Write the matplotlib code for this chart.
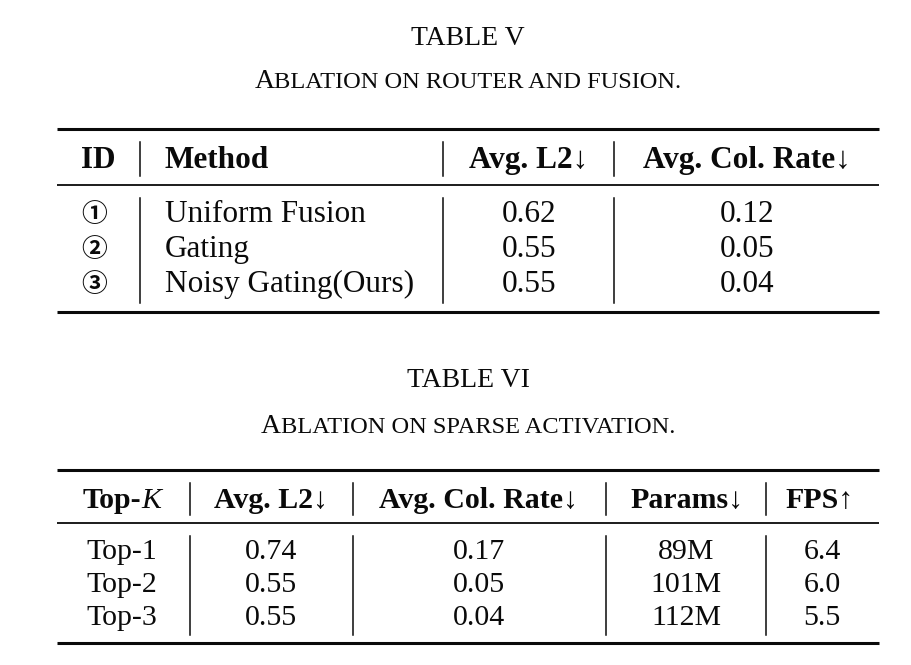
import matplotlib
matplotlib.use('Agg')
import matplotlib.pyplot as plt

# table V: ablation on router and fusion
t5_headers = ['ID', 'Method', 'Avg. L2\u2193', 'Avg. Col. Rate\u2193']
t5_ids = ['\u2460', '\u2461', '\u2462']
t5_methods = ['Uniform Fusion', 'Gating', 'Noisy Gating(Ours)']
t5_l2 = [0.62, 0.55, 0.55]
t5_col = [0.12, 0.05, 0.04]

# table VI: ablation on sparse activation
t6_headers = ['Top-K', 'Avg. L2\u2193', 'Avg. Col. Rate\u2193', 'Params\u2193', 'FPS\u2191']
t6_topk = ['Top-1', 'Top-2', 'Top-3']
t6_l2 = [0.74, 0.55, 0.55]
t6_col = [0.17, 0.05, 0.04]
t6_params = ['89M', '101M', '112M']
t6_fps = [6.4, 6.0, 5.5]

SERIF = ['Liberation Serif', 'DejaVu Serif']
INK = '#0a0a0a'

fig = plt.figure(figsize=(9.12, 6.65), dpi=100)
ax = fig.add_axes([0, 0, 1, 1])
ax.set_xlim(0, 912)
ax.set_ylim(665, 0)
ax.axis('off')
renderer = fig.canvas.get_renderer()


def runs(xc, yb, parts):
    # draw pieces of text one after another, centred as a group
    texts = [ax.text(0, yb, s, va='baseline', ha='left', color=INK, **kw) for s, kw in parts]
    widths = [t.get_window_extent(renderer).width for t in texts]
    x = xc - sum(widths) / 2
    for t, w in zip(texts, widths):
        t.set_x(x)
        x += w


def put(x, yb, s, size, ha='center', bold=False, family=SERIF):
    ax.text(x, yb, s, ha=ha, va='baseline', fontsize=size, color=INK,
            family=family, fontweight='bold' if bold else 'normal')


def rules(x0, x1, top, mid, bot):
    ax.plot([x0, x1], [top, top], color=INK, lw=2.2, solid_capstyle='butt')
    ax.plot([x0, x1], [mid, mid], color=INK, lw=1.3, solid_capstyle='butt')
    ax.plot([x0, x1], [bot, bot], color=INK, lw=2.2, solid_capstyle='butt')


def vlines(xs, spans):
    for x in xs:
        for y0, y1 in spans:
            ax.plot([x, x], [y0, y1], color=INK, lw=1.1)


# ---------- TABLE V ----------
put(468, 45, 'TABLE V', 20)
runs(468, 88, [('A', dict(fontsize=20, family=SERIF)),
               ('BLATION ON ROUTER AND FUSION.', dict(fontsize=17.6, family=SERIF))])

rules(57, 879, 129, 185, 312)
vlines([140, 443, 614], [(142, 176), (198, 303)])

fs5 = 22.5
put(98, 168, t5_headers[0], fs5, bold=True)
put(165, 168, t5_headers[1], fs5, ha='left', bold=True)
put(529, 168, t5_headers[2], fs5, bold=True)
put(747, 168, t5_headers[3], fs5, bold=True)

base5 = [222, 257, 292]
for i, yb in enumerate(base5):
    put(94, yb, t5_ids[i], 18.5, bold=True, family=['Noto Sans CJK JP', 'DejaVu Sans'])
    put(165, yb, t5_methods[i], fs5, ha='left')
    put(529, yb, f'{t5_l2[i]:.2f}', fs5)
    put(747, yb, f'{t5_col[i]:.2f}', fs5)

# ---------- TABLE VI ----------
put(468, 387, 'TABLE VI', 20)
runs(468, 433, [('A', dict(fontsize=20, family=SERIF)),
                ('BLATION ON SPARSE ACTIVATION.', dict(fontsize=17.6, family=SERIF))])

rules(57, 879, 470, 523, 643)
vlines([190, 353, 606, 766], [(483, 515), (536, 635)])

fs6 = 21.5
runs(122, 508, [('Top-', dict(fontsize=fs6, family=SERIF, fontweight='bold')),
                ('K', dict(fontsize=fs6, family=SERIF, style='italic'))])
put(271, 508, t6_headers[1], fs6, bold=True)
put(479, 508, t6_headers[2], fs6, bold=True)
put(687, 508, t6_headers[3], fs6, bold=True)
put(820, 508, t6_headers[4], fs6, bold=True)

base6 = [559, 592, 625]
for i, yb in enumerate(base6):
    put(122, yb, t6_topk[i], fs6)
    put(271, yb, f'{t6_l2[i]:.2f}', fs6)
    put(479, yb, f'{t6_col[i]:.2f}', fs6)
    put(686, yb, t6_params[i], fs6)
    put(822, yb, f'{t6_fps[i]:.1f}', fs6)

fig.savefig('out.png', dpi=100, facecolor='white')
